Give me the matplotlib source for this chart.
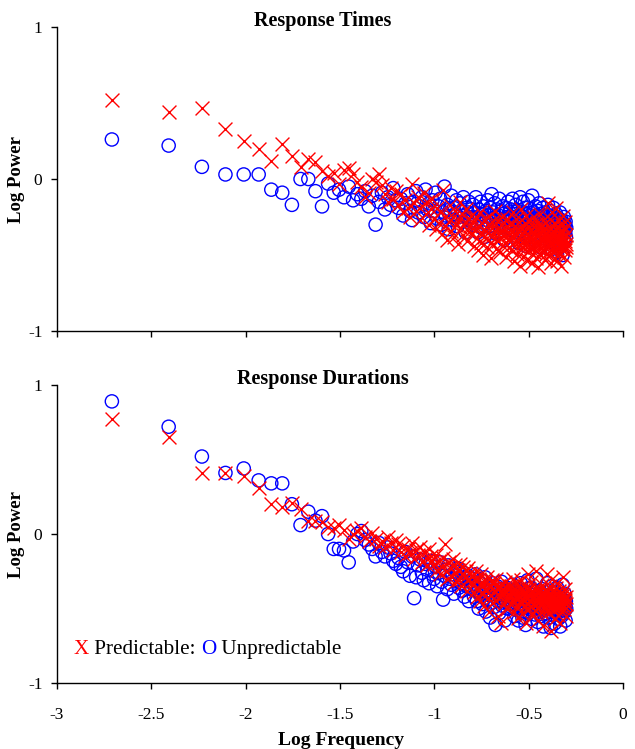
import numpy as np
import matplotlib
matplotlib.use("Agg")
import matplotlib.pyplot as plt
from matplotlib.offsetbox import TextArea, HPacker, AnchoredOffsetbox

plt.rcParams['font.family'] = ['Liberation Serif', 'DejaVu Serif']

# Spectral power values, harmonic k = 1..256 of a 512-sample series
rt_predictable = [
    .52, .44, .47, .33, .25, .20, .12, .23, .15, .08, .13, .11,
    .05, .02, .04, -.03, .06, .07, .03, -.02,
    -.05, -.12, -.09, .00, -.02, .03, -.04, -.10, -.15, -.06, -.13, -.08,
    -.17, -.10, -.22, -.14, -.19, -.25, -.03, -.16, -.21, -.12, -.27, -.18, -.09, -.23, -.15, -.30, -.20, -.13,
    -.26, -.33, -.19, -.29, -.22, -.36, -.07, -.31, -.24, -.40, -.28, -.17, -.34, -.25, -.38, -.21, -.30, -.43, -.27, -.15,
    -.32, -.23, -.37, -.29, -.20, -.41, -.26, -.35, -.31, -.24,
    -.36, -.28, -.44, -.33, -.25, -.39, -.47, -.31, -.22, -.42, -.35, -.29, -.50, -.38, -.26, -.34, -.45, -.30, -.40, -.24,
    -.37, -.52, -.32, -.28, -.43, -.36, -.21, -.39, -.46, -.33, -.27, -.41, -.35, -.48, -.30, -.38, -.25, -.44, -.34, -.29,
    -.42, -.37, -.51, -.31, -.26, -.40, -.36, -.45,
    -.39, -.30, -.47, -.35, -.22, -.43, -.38, -.54, -.31, -.41, -.26, -.36, -.49, -.33, -.44, -.28, -.40, -.57, -.37, -.20,
    -.45, -.32, -.42, -.51, -.35, -.29, -.46, -.39, -.24, -.43, -.36, -.53, -.31, -.40, -.47, -.34, -.27, -.44, -.38, -.55,
    -.30, -.41, -.35, -.48, -.25, -.39, -.45, -.33, -.52, -.37, -.29, -.42, -.36, -.58, -.32, -.46, -.39, -.23, -.43, -.35,
    -.50, -.40, -.31, -.47, -.38, -.27, -.44, -.34, -.53, -.41, -.36, -.49,
    -.38, -.30, -.45, -.16, -.41, -.34, -.50, -.37, -.26, -.43, -.39, -.55, -.32, -.46, -.36, -.22, -.42, -.48, -.35, -.40,
    -.29, -.52, -.38, -.44, -.33, -.19, -.47, -.37, -.41, -.54, -.31, -.43, -.39, -.27, -.49, -.36, -.45, -.34, -.40, -.57,
    -.42, -.30, -.38, -.46, -.24, -.44, -.35, -.51, -.39, -.33, -.47, -.41, -.28, -.43, -.37, -.45,
]

rt_unpredictable = [
    .26, .22, .08, .03, .03, .03, -.07, -.09, -.17, .00, .00, -.08,
    -.18, -.03, -.09, -.07, -.12, -.05, -.14, -.10,
    -.13, -.08, -.18, -.11, -.30, -.15, -.09, -.20, -.12, -.17, -.06, -.14,
    -.19, -.13, -.24, -.16, -.10, -.21, -.27, -.15, -.08, -.22, -.18, -.12, -.25, -.07, -.20, -.16, -.29, -.14,
    -.21, -.09, -.26, -.18, -.13, -.30, -.22, -.05, -.24, -.17, -.33, -.20, -.11, -.27, -.19, -.23, -.14, -.31, -.25, -.16,
    -.21, -.28, -.12, -.24, -.35, -.19, -.22, -.15, -.26, -.20,
    -.25, -.17, -.30, -.22, -.12, -.28, -.35, -.20, -.26, -.15, -.32, -.23, -.18, -.29, -.38, -.21, -.27, -.14, -.24, -.31,
    -.19, -.26, -.10, -.33, -.22, -.28, -.16, -.25, -.36, -.20, -.30, -.24, -.13, -.27, -.34, -.21, -.29, -.18, -.23, -.40,
    -.26, -.31, -.19, -.25, -.28, -.15, -.32, -.22,
    -.28, -.20, -.33, -.25, -.13, -.30, -.38, -.23, -.27, -.17, -.35, -.26, -.21, -.31, -.42, -.24, -.29, -.12, -.27, -.34,
    -.22, -.30, -.15, -.36, -.25, -.28, -.19, -.32, -.44, -.26, -.23, -.30, -.14, -.29, -.37, -.24, -.31, -.20, -.27, -.33,
    -.11, -.28, -.35, -.22, -.30, -.26, -.40, -.18, -.29, -.32, -.24, -.36, -.21, -.27, -.31, -.16, -.34, -.28, -.23, -.45,
    -.30, -.26, -.33, -.19, -.29, -.37, -.25, -.31, -.22, -.28, -.35, -.27,
    -.31, -.24, -.36, -.28, -.17, -.33, -.40, -.27, -.30, -.21, -.38, -.29, -.34, -.25, -.46, -.32, -.28, -.35, -.19, -.31,
    -.42, -.27, -.33, -.30, -.37, -.23, -.34, -.29, -.48, -.32, -.26, -.36, -.31, -.39, -.28, -.33, -.22, -.35, -.30, -.44,
    -.32, -.27, -.37, -.31, -.50, -.34, -.29, -.36, -.25, -.33, -.41, -.30, -.35, -.28, -.38, -.32,
]

rd_predictable = [
    .77, .65, .41, .41, .39, .31, .20, .18, .21, .17, .09, .09,
    .08, .05, .04, .06, .03, -.03, .00, .02,
    .04, -.02, -.05, .01, -.03, -.08, -.05, -.09, -.02, -.06, -.11, -.04,
    -.07, -.12, -.08, -.15, -.10, -.13, -.06, -.17, -.11, -.14, -.09, -.19, -.12, -.16, -.21, -.10, -.15, -.18,
    -.20, -.14, -.24, -.18, -.27, -.22, -.16, -.07, -.25, -.30, -.19, -.23, -.28, -.17, -.33, -.21, -.26, -.24, -.31, -.20,
    -.35, -.27, -.22, -.29, -.25, -.38, -.23, -.30, -.26, -.32,
    -.34, -.28, -.39, -.31, -.25, -.42, -.36, -.30, -.45, -.33, -.27, -.40, -.35, -.48, -.32, -.38, -.29, -.43, -.36, -.52,
    -.34, -.41, -.31, -.37, -.46, -.33, -.39, -.44, -.30, -.36, -.55, -.40, -.35, -.42, -.38, -.60, -.34, -.41, -.37, -.47,
    -.39, -.32, -.44, -.36, -.50, -.40, -.35, -.43,
    -.41, -.35, -.46, -.38, -.30, -.44, -.40, -.52, -.37, -.43, -.33, -.48, -.41, -.39, -.56, -.36, -.45, -.42, -.31, -.47,
    -.40, -.53, -.38, -.44, -.35, -.49, -.42, -.60, -.39, -.46, -.43, -.27, -.41, -.50, -.37, -.45, -.44, -.32, -.48, -.40,
    -.54, -.42, -.38, -.47, -.43, -.36, -.51, -.41, -.45, -.25, -.44, -.39, -.58, -.46, -.42, -.49, -.37, -.44, -.41, -.52,
    -.40, -.47, -.34, -.43, -.45, -.62, -.41, -.48, -.38, -.44, -.50, -.42,
    -.44, -.38, -.27, -.47, -.42, -.53, -.40, -.45, -.35, -.49, -.43, -.65, -.41, -.46, -.30, -.48, -.44, -.51, -.39, -.45,
    -.42, -.57, -.40, -.47, -.36, -.50, -.43, -.46, -.33, -.48, -.44, -.54, -.41, -.45, -.38, -.49, -.42, -.60, -.46, -.43,
    -.40, -.52, -.44, -.47, -.29, -.45, -.41, -.50, -.43, -.48, -.37, -.46, -.44, -.55, -.42, -.47,
]

rd_unpredictable = [
    .89, .72, .52, .41, .44, .36, .34, .34, .20, .06, .15, .09,
    .12, .00, -.10, -.10, -.11, -.19, -.05, .00,
    .02, -.04, -.07, -.10, -.15, -.06, -.12, -.15, -.09, -.13, -.18, -.20,
    -.16, -.22, -.25, -.12, -.19, -.28, -.15, -.43, -.29, -.21, -.17, -.26, -.31, -.20, -.24, -.33, -.18, -.27,
    -.30, -.22, -.35, -.26, -.19, -.32, -.44, -.28, -.24, -.37, -.21, -.30, -.34, -.27, -.40, -.25, -.31, -.23, -.36, -.29,
    -.33, -.38, -.26, -.42, -.30, -.35, -.28, -.45, -.32, -.37,
    -.36, -.30, -.42, -.34, -.27, -.45, -.38, -.50, -.33, -.40, -.31, -.47, -.37, -.43, -.29, -.52, -.39, -.35, -.44, -.41,
    -.56, -.36, -.46, -.33, -.40, -.49, -.38, -.61, -.42, -.35, -.45, -.39, -.53, -.37, -.43, -.32, -.48, -.41, -.46, -.38,
    -.58, -.44, -.40, -.36, -.50, -.42, -.47, -.39,
    -.44, -.38, -.49, -.41, -.34, -.47, -.43, -.55, -.40, -.46, -.37, -.51, -.44, -.42, -.58, -.39, -.48, -.45, -.33, -.50,
    -.43, -.56, -.41, -.47, -.38, -.52, -.45, -.61, -.42, -.49, -.46, -.31, -.44, -.53, -.40, -.48, -.47, -.36, -.51, -.43,
    -.57, -.45, -.41, -.50, -.46, -.39, -.54, -.44, -.48, -.30, -.47, -.42, -.59, -.49, -.45, -.52, -.40, -.47, -.44, -.55,
    -.43, -.50, -.37, -.46, -.48, -.62, -.44, -.51, -.41, -.47, -.53, -.45,
    -.47, -.41, -.33, -.50, -.45, -.56, -.43, -.48, -.38, -.52, -.46, -.63, -.44, -.49, -.35, -.51, -.47, -.54, -.42, -.48,
    -.45, -.60, -.43, -.50, -.39, -.53, -.46, -.49, -.36, -.51, -.47, -.57, -.44, -.48, -.41, -.52, -.45, -.62, -.49, -.46,
    -.43, -.55, -.47, -.50, -.34, -.48, -.44, -.53, -.46, -.51, -.40, -.49, -.47, -.58, -.45, -.50,
]

n_samples = 512
panel_titles = ["Response Times", "Response Durations"]
x_ticks = [-3, -2.5, -2, -1.5, -1, -0.5, 0]
x_tick_labels = ['-3', '-2.5', '-2', '-1.5', '-1', '-0.5', '0']
y_ticks = [-1, 0, 1]


def log_freq(vals):
    k = np.arange(1, len(vals) + 1)
    return np.log10(k / n_samples)


fig = plt.figure(figsize=(6.35, 7.49), dpi=100)
ax1 = fig.add_axes([0.0898, 0.558, 0.8913, 0.406])
ax2 = fig.add_axes([0.0898, 0.088, 0.8913, 0.398])

ms_x = 10.0
ms_o = 9.5
for ax, pred, unpred, title in [(ax1, rt_predictable, rt_unpredictable, panel_titles[0]),
                                (ax2, rd_predictable, rd_unpredictable, panel_titles[1])]:
    ax.scatter(log_freq(unpred), unpred, s=ms_o ** 2, marker='o', facecolors='none',
               edgecolors='#0000FF', linewidths=1.0, zorder=2)
    ax.scatter(log_freq(pred), pred, s=ms_x ** 2, marker='x', color='#FF0000',
               linewidths=1.0, zorder=3)
    ax.set_xlim(-3, 0)
    ax.set_ylim(-1, 1)
    ax.set_xticks(x_ticks)
    ax.set_yticks(y_ticks)
    ax.set_yticklabels([str(v) for v in y_ticks])
    for s in ['top', 'right']:
        ax.spines[s].set_visible(False)
    for s in ['left', 'bottom']:
        ax.spines[s].set_linewidth(1.0)
    ax.tick_params(direction='out', length=4, width=1.0, labelsize=12.5)
    ax.tick_params(axis='y', pad=6.5)
    ax.tick_params(axis='x', pad=13)
    ax.set_ylabel("Log Power", fontsize=13.5, fontweight='bold')
    ax.yaxis.set_label_coords(-0.056, 0.5)
    ax.text(0.47, 1.02, title, transform=ax.transAxes, ha='center', va='center',
            fontsize=14.5, fontweight='bold')

ax1.tick_params(axis='x', labelbottom=False)
ax2.set_xticklabels(x_tick_labels)
fig.text(0.537, 0.006, "Log Frequency", ha='center', va='baseline',
         fontsize=14, fontweight='bold')

fs_leg = 15.2
parts = [TextArea("X", textprops=dict(color='#FF0000', fontsize=fs_leg)),
         TextArea(" Predictable: ", textprops=dict(color='black', fontsize=fs_leg)),
         TextArea("O", textprops=dict(color='#0000FF', fontsize=fs_leg)),
         TextArea(" Unpredictable", textprops=dict(color='black', fontsize=fs_leg))]
box = HPacker(children=parts, align='baseline', pad=0, sep=0)
anch = AnchoredOffsetbox(loc='lower left', child=box, frameon=False,
                         bbox_to_anchor=(0.03, 0.08), bbox_transform=ax2.transAxes,
                         pad=0, borderpad=0)
ax2.add_artist(anch)

fig.savefig("out.png", dpi=100)
